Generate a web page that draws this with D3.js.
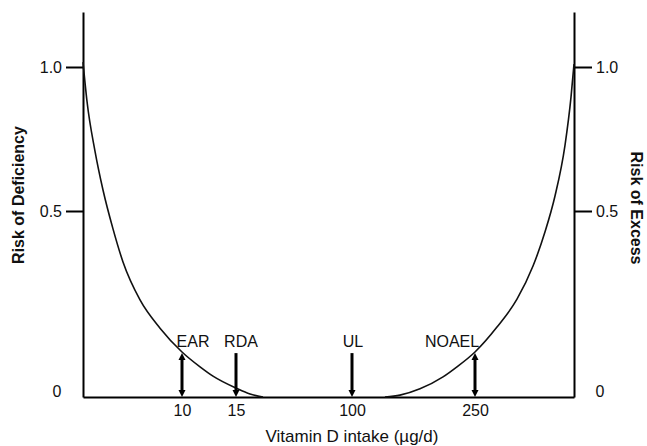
<!DOCTYPE html>
<html>
<head>
<meta charset="utf-8">
<script src="https://cdn.jsdelivr.net/npm/d3@7"></script>
<style>
  body { margin: 0; background: #fff; }
  text { font-family: "Liberation Sans", Arial, sans-serif; fill: #111; }
</style>
</head>
<body>
<div id="chart"></div>
<script>
const riskTicks = [0.5, 1.0]
const intakeTicks = [10, 15, 100, 250]

const deficiencyIntake = [0, 0.40, 1.21, 2.02, 3.03, 4.04, 5.76, 7.78, 10, 11.67, 12.87, 15, 25.3, 34.8]
const deficiencyRisk = [1.017, 0.882, 0.708, 0.573, 0.452, 0.363, 0.261, 0.185, 0.121, 0.081, 0.056, 0.024, 0.008, 0]

const excessIntake = [140.2, 158.5, 182.9, 211.0, 228.0, 250, 283.3, 313.6, 337.9, 356.1, 371.2, 386.4, 395.5, 400]
const excessRisk = [0, 0.005, 0.022, 0.054, 0.081, 0.121, 0.188, 0.263, 0.352, 0.444, 0.552, 0.729, 0.896, 1.010]

const refNames = ['EAR', 'RDA', 'UL', 'NOAEL']
const refIntake = [10, 15, 100, 250]
const refHeads = ['both', 'down', 'down', 'both']
const refRisk = 0.118

const width = 647, height = 446

// schematic axes: piecewise linear, not to scale
const x = d3.scaleLinear()
  .domain([0, 10, 15, 100, 250, 400])
  .range([83, 182, 236, 352, 475, 574])

const y = d3.scaleLinear()
  .domain([0, 0.5, 1, 1.19])
  .range([397, 211, 67, 12])

const svg = d3.select('#chart')
  .append('svg')
  .attr('width', width)
  .attr('height', height)

svg.append('rect')
  .attr('width', width)
  .attr('height', height)
  .attr('fill', '#fff')

const fmt = d3.format('.1f')

const leftAxis = svg.append('g')
  .attr('transform', 'translate(' + x(0) + ',0)')
  .call(d3.axisLeft(y).tickValues(riskTicks).tickSize(17).tickSizeOuter(0).tickPadding(4).tickFormat(fmt))

const rightAxis = svg.append('g')
  .attr('transform', 'translate(' + x(400) + ',0)')
  .call(d3.axisRight(y).tickValues(riskTicks).tickSize(18).tickSizeOuter(0).tickPadding(4).tickFormat(fmt))

const bottomAxis = svg.append('g')
  .attr('transform', 'translate(0,' + y(0) + ')')
  .call(d3.axisBottom(x).tickValues(intakeTicks).tickSize(0).tickSizeOuter(0).tickPadding(8).tickFormat(d3.format('d')))

;[leftAxis, rightAxis, bottomAxis].forEach(a => {
  a.selectAll('path, line').attr('stroke', '#000').attr('stroke-width', 2)
  a.selectAll('text').style('font-size', '16px').style('font-family', '"Liberation Sans", Arial, sans-serif').attr('fill', '#111')
})

// the zero labels sit beside the baseline, with no tick
svg.append('text')
  .attr('x', 57).attr('y', y(0))
  .attr('text-anchor', 'middle')
  .style('font-size', '16px')
  .text('0')

svg.append('text')
  .attr('x', 600).attr('y', y(0))
  .attr('text-anchor', 'middle')
  .style('font-size', '16px')
  .text('0')

const line = d3.line()
  .x(d => x(d[0]))
  .y(d => y(d[1]))
  .curve(d3.curveMonotoneX)

svg.append('path')
  .datum(deficiencyIntake.map((v, i) => [v, deficiencyRisk[i]]))
  .attr('d', line)
  .attr('fill', 'none')
  .attr('stroke', '#111')
  .attr('stroke-width', 1.6)

svg.append('path')
  .datum(excessIntake.map((v, i) => [v, excessRisk[i]]))
  .attr('d', line)
  .attr('fill', 'none')
  .attr('stroke', '#111')
  .attr('stroke-width', 1.6)

// reference arrows
const labelShift = { EAR: 11, RDA: 5, UL: 1, NOAEL: -23 }
const head = 7, half = 3.5

const refs = svg.append('g')
  .selectAll('g')
  .data(refNames.map((n, i) => ({ name: n, intake: refIntake[i], heads: refHeads[i] })))
  .join('g')

refs.append('line')
  .attr('x1', d => x(d.intake))
  .attr('x2', d => x(d.intake))
  .attr('y1', d => y(refRisk) + (d.heads === 'both' ? head - 1 : 0))
  .attr('y2', d => y(0) - head + 1)
  .attr('stroke', '#000')
  .attr('stroke-width', 3)

refs.append('path')
  .attr('d', d => {
    const cx = x(d.intake), b = y(0)
    return 'M' + (cx - half) + ',' + (b - head) + 'L' + cx + ',' + b + 'L' + (cx + half) + ',' + (b - head) + 'Z'
  })
  .attr('fill', '#000')

refs.filter(d => d.heads === 'both')
  .append('path')
  .attr('d', d => {
    const cx = x(d.intake), t = y(refRisk)
    return 'M' + (cx - half) + ',' + (t + head) + 'L' + cx + ',' + t + 'L' + (cx + half) + ',' + (t + head) + 'Z'
  })
  .attr('fill', '#000')

refs.append('text')
  .attr('x', d => x(d.intake) + labelShift[d.name])
  .attr('y', y(refRisk) - 6)
  .attr('text-anchor', 'middle')
  .style('font-size', '16px')
  .text(d => d.name)

// axis titles
svg.append('text')
  .attr('transform', 'translate(24,195) rotate(-90)')
  .attr('text-anchor', 'middle')
  .style('font-size', '16px')
  .style('font-weight', 'bold')
  .text('Risk of Deficiency')

svg.append('text')
  .attr('transform', 'translate(631,208) rotate(90)')
  .attr('text-anchor', 'middle')
  .style('font-size', '16px')
  .style('font-weight', 'bold')
  .text('Risk of Excess')

svg.append('text')
  .attr('x', 352)
  .attr('y', 442)
  .attr('text-anchor', 'middle')
  .style('font-size', '17px')
  .text('Vitamin D intake (µg/d)')
</script>
</body>
</html>
